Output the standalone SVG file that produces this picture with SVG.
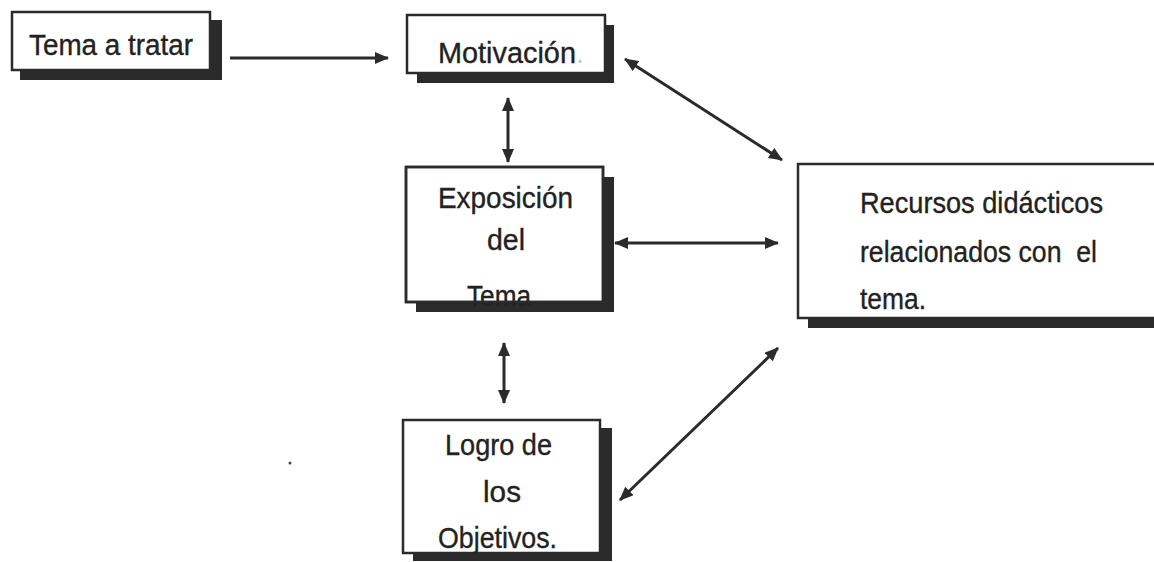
<svg xmlns="http://www.w3.org/2000/svg" width="1154" height="562" viewBox="0 0 1154 562">
<style>
.shadow{fill:#2b2b2b}
.box{fill:#fff;stroke:#2b2b2b;stroke-width:2.5}
.edge{fill:none;stroke:#2b2b2b;stroke-width:2.5}
.t{font-family:"Liberation Sans",Arial,sans-serif;font-size:29px;fill:#222;stroke:#222;stroke-width:0.35;white-space:pre}
.faint{fill:#c8c8c8;stroke:none}
.conn{stroke:#2b2b2b;stroke-width:3;fill:none}
</style>
<defs>
<marker id="ah" viewBox="0 0 14 12" refX="13" refY="6" markerWidth="15" markerHeight="12" markerUnits="userSpaceOnUse" orient="auto-start-reverse">
<path d="M0,0 L14,6 L0,12 z" fill="#2b2b2b"/>
</marker>
</defs>
<rect width="1154" height="562" fill="#fff"/>

<g id="tema-a-tratar">
<rect class="shadow" x="20" y="20" width="202" height="60"/>
<rect class="box" x="12" y="12" width="198" height="58"/>
<text class="t" x="29" y="55" textLength="164" lengthAdjust="spacingAndGlyphs">Tema a tratar</text>
</g>

<g id="motivacion">
<rect class="shadow" x="417" y="25" width="197" height="58"/>
<rect class="box" x="407" y="15" width="198" height="58"/>
<text class="t" x="438" y="63" textLength="146" lengthAdjust="spacingAndGlyphs">Motivación<tspan class="faint">.</tspan></text>
</g>

<g id="exposicion">
<rect class="shadow" x="416" y="177" width="198" height="135"/>
<rect class="box" x="406" y="167" width="197" height="135" stroke="none"/>
<text class="t" x="438" y="208" textLength="135" lengthAdjust="spacingAndGlyphs">Exposición</text>
<text class="t" x="487" y="250" textLength="38" lengthAdjust="spacingAndGlyphs">del</text>
<text class="t" x="467" y="306" textLength="64" lengthAdjust="spacingAndGlyphs">Tema</text>
<rect class="edge" x="406" y="167" width="197" height="135"/>
</g>

<g id="logro">
<rect class="shadow" x="413" y="428" width="199" height="133"/>
<rect class="box" x="403" y="420" width="197" height="133"/>
<text class="t" x="445" y="455" textLength="107" lengthAdjust="spacingAndGlyphs">Logro de</text>
<text class="t" x="483" y="502" textLength="38" lengthAdjust="spacingAndGlyphs">los</text>
<text class="t" x="438" y="548" textLength="119" lengthAdjust="spacingAndGlyphs">Objetivos.</text>
</g>

<g id="recursos">
<rect class="shadow" x="808" y="174" width="360" height="154"/>
<rect class="box" x="798" y="164" width="370" height="154"/>
<text class="t" x="860" y="213" textLength="243" lengthAdjust="spacingAndGlyphs">Recursos didácticos</text>
<text class="t" x="860" y="262" textLength="237" lengthAdjust="spacingAndGlyphs">relacionados con  el</text>
<text class="t" x="860" y="309" textLength="66" lengthAdjust="spacingAndGlyphs">tema.</text>
</g>

<g id="connectors">
<line class="conn" x1="230" y1="58" x2="388" y2="58" marker-end="url(#ah)"/>
<line class="conn" x1="508" y1="98" x2="508" y2="162" marker-start="url(#ah)" marker-end="url(#ah)"/>
<line class="conn" x1="625" y1="59" x2="782" y2="160" marker-start="url(#ah)" marker-end="url(#ah)"/>
<line class="conn" x1="615" y1="243" x2="778" y2="243" marker-start="url(#ah)" marker-end="url(#ah)"/>
<line class="conn" x1="504" y1="343" x2="504" y2="403" marker-start="url(#ah)" marker-end="url(#ah)"/>
<line class="conn" x1="620" y1="500" x2="778" y2="348" marker-start="url(#ah)" marker-end="url(#ah)"/>
</g>
<circle cx="290" cy="463" r="1.5" fill="#444"/>
</svg>
